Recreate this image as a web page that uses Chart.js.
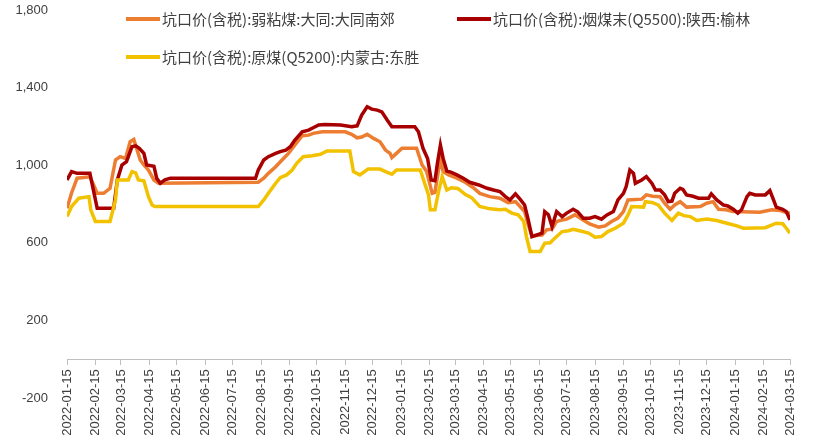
<!DOCTYPE html>
<html>
<head>
<meta charset="utf-8">
<script src="https://cdn.jsdelivr.net/npm/chart.js@4/dist/chart.umd.min.js"></script>
<style>
  html, body { margin: 0; padding: 0; background: #ffffff; }
  #wrap { width: 818px; height: 447px; }
</style>
</head>
<body>
<div id="wrap"><canvas id="c" width="818" height="447"></canvas></div>
<script>
// ---- Data ----
const seriesNames = [
  '坑口价(含税):弱粘煤:大同:大同南郊',
  '坑口价(含税):烟煤末(Q5500):陕西:榆林',
  '坑口价(含税):原煤(Q5200):内蒙古:东胜'
];

const tickLabels = [
  '2022-01-15','2022-02-15','2022-03-15','2022-04-15','2022-05-15','2022-06-15','2022-07-15',
  '2022-08-15','2022-09-15','2022-10-15','2022-11-15','2022-12-15','2023-01-15','2023-02-15',
  '2023-03-15','2023-04-15','2023-05-15','2023-06-15','2023-07-15','2023-08-15','2023-09-15',
  '2023-10-15','2023-11-15','2023-12-15','2024-01-15','2024-02-15','2024-03-15'
];

const yTicks = [-200, 200, 600, 1000, 1400, 1800];

// 大同南郊 弱粘煤
const datongDates = [
  '2022-01-15','2022-01-20','2022-01-26','2022-02-09','2022-02-13','2022-02-17','2022-02-24','2022-03-03',
  '2022-03-09','2022-03-14','2022-03-20','2022-03-25','2022-03-29','2022-04-01','2022-04-05','2022-04-09',
  '2022-04-14','2022-04-20','2022-04-25','2022-08-12','2022-08-18','2022-08-23','2022-08-31','2022-09-07',
  '2022-09-14','2022-09-21','2022-09-29','2022-10-06','2022-10-11','2022-10-21','2022-11-15','2022-11-22',
  '2022-11-28','2022-12-03','2022-12-09','2022-12-16','2022-12-23','2022-12-29','2023-01-03','2023-01-05',
  '2023-01-10','2023-01-16','2023-02-01','2023-02-07','2023-02-12','2023-02-18','2023-02-21','2023-02-27',
  '2023-03-02','2023-03-08','2023-03-17','2023-03-26','2023-04-04','2023-04-11','2023-04-22','2023-05-03',
  '2023-05-12','2023-05-20','2023-05-25','2023-05-30','2023-06-03','2023-06-07','2023-06-18','2023-06-23',
  '2023-06-29','2023-07-04','2023-07-10','2023-07-15','2023-07-24','2023-08-02','2023-08-09','2023-08-19',
  '2023-08-26','2023-09-02','2023-09-09','2023-09-15','2023-09-20','2023-10-05','2023-10-10','2023-10-17',
  '2023-10-25','2023-10-30','2023-11-05','2023-11-10','2023-11-16','2023-11-23','2023-12-08','2023-12-15',
  '2023-12-22','2023-12-28','2024-01-05','2024-01-13','2024-02-11','2024-02-24','2024-03-04','2024-03-11',
  '2024-03-15'
];
const datongValues = [
  778, 857, 933, 940, 900, 855, 855, 881,
  1027, 1044, 1035, 1121, 1133, 1087, 1027, 1001,
  975, 924, 907, 912, 933, 958, 992, 1027,
  1061, 1104, 1152, 1155, 1164, 1172, 1172, 1159,
  1141, 1145, 1159, 1138, 1121, 1078, 1061, 1039,
  1061, 1087, 1087, 1001, 967, 855, 860, 1035,
  967, 950, 933, 912, 884, 855, 838, 830,
  807, 812, 787, 761, 693, 636, 640, 667,
  670, 710, 718, 722, 744, 718, 698, 681,
  687, 710, 727, 761, 821, 825, 847, 840,
  838, 804, 773, 795, 812, 784, 787, 804,
  812, 773, 770, 761, 758, 770, 767, 756,
  752
];

// 榆林 烟煤末(Q5500)
const yulinDates = [
  '2022-01-15','2022-01-20','2022-01-26','2022-02-09','2022-02-17','2022-03-07','2022-03-11','2022-03-16',
  '2022-03-21','2022-03-27','2022-03-31','2022-04-04','2022-04-09','2022-04-12','2022-04-20','2022-04-23',
  '2022-04-27','2022-05-02','2022-05-08','2022-08-09','2022-08-12','2022-08-18','2022-08-23','2022-08-31',
  '2022-09-05','2022-09-11','2022-09-16','2022-09-21','2022-09-29','2022-10-06','2022-10-11','2022-10-17',
  '2022-10-24','2022-11-10','2022-11-22','2022-11-28','2022-12-03','2022-12-09','2022-12-14','2022-12-20',
  '2022-12-25','2022-12-31','2023-01-05','2023-01-30','2023-02-03','2023-02-08','2023-02-13','2023-02-17',
  '2023-02-21','2023-02-24','2023-02-27','2023-03-02','2023-03-06','2023-03-11','2023-03-17','2023-03-24',
  '2023-03-31','2023-04-10','2023-04-19','2023-04-26','2023-05-03','2023-05-09','2023-05-14','2023-05-20',
  '2023-05-25','2023-05-30','2023-06-03','2023-06-07','2023-06-18','2023-06-21','2023-06-25','2023-06-29',
  '2023-07-04','2023-07-10','2023-07-15','2023-07-22','2023-07-27','2023-08-02','2023-08-09','2023-08-15',
  '2023-08-22','2023-08-28','2023-09-04','2023-09-09','2023-09-15','2023-09-18','2023-09-22','2023-09-26',
  '2023-09-28','2023-10-05','2023-10-10','2023-10-16','2023-10-20','2023-10-25','2023-10-30','2023-11-03',
  '2023-11-07','2023-11-10','2023-11-16','2023-11-19','2023-11-23','2023-11-30','2023-12-06','2023-12-17',
  '2023-12-20','2023-12-26','2024-01-02','2024-01-07','2024-01-13','2024-01-18','2024-01-22','2024-01-28',
  '2024-01-31','2024-02-06','2024-02-17','2024-02-22','2024-02-26','2024-02-29','2024-03-07','2024-03-11',
  '2024-03-15'
];
const yulinValues = [
  924, 967, 958, 958, 778, 778, 924, 1001,
  1018, 1095, 1100, 1087, 1061, 1001, 995, 933,
  907, 924, 933, 933, 975, 1027, 1044, 1061,
  1070, 1078, 1095, 1130, 1172, 1181, 1193, 1207,
  1210, 1207, 1198, 1203, 1258, 1301, 1289, 1284,
  1275, 1232, 1198, 1198, 1172, 1087, 1035, 924,
  920, 1018, 1104, 1035, 970, 963, 950, 933,
  912, 898, 881, 872, 864, 838, 821, 852,
  825, 795, 718, 632, 650, 761, 745, 684,
  761, 735, 753, 773, 760, 727, 727, 735,
  722, 744, 761, 821, 855, 890, 975, 958,
  907, 924, 941, 907, 872, 872, 847, 812,
  815, 855, 881, 875, 847, 840, 830, 830,
  852, 821, 795, 790, 773, 753, 770, 838,
  855, 847, 847, 869, 821, 784, 773, 761,
  718
];

// 东胜 原煤(Q5200)
const dongshengDates = [
  '2022-01-15','2022-01-20','2022-01-28','2022-02-08','2022-02-10','2022-02-15','2022-03-03','2022-03-09',
  '2022-03-11','2022-03-23','2022-03-27','2022-03-31','2022-04-03','2022-04-09','2022-04-14','2022-04-18',
  '2022-04-21','2022-08-12','2022-08-18','2022-08-23','2022-08-31','2022-09-05','2022-09-12','2022-09-18',
  '2022-09-23','2022-09-30','2022-10-10','2022-10-19','2022-10-26','2022-11-20','2022-11-24','2022-12-01',
  '2022-12-10','2022-12-23','2022-12-31','2023-01-05','2023-01-10','2023-02-05','2023-02-08','2023-02-14',
  '2023-02-16','2023-02-21','2023-02-25','2023-03-01','2023-03-06','2023-03-11','2023-03-18','2023-03-26',
  '2023-04-02','2023-04-11','2023-04-22','2023-05-03','2023-05-09','2023-05-16','2023-05-23','2023-05-29',
  '2023-06-01','2023-06-05','2023-06-16','2023-06-21','2023-06-27','2023-07-02','2023-07-10','2023-07-17',
  '2023-07-22','2023-07-29','2023-08-08','2023-08-15','2023-08-22','2023-08-29','2023-09-06','2023-09-15',
  '2023-09-20','2023-09-24','2023-10-07','2023-10-09','2023-10-16','2023-10-23','2023-10-30','2023-11-07',
  '2023-11-14','2023-11-20','2023-11-27','2023-12-04','2023-12-15','2023-12-26','2024-01-06','2024-01-17',
  '2024-01-24','2024-02-17','2024-02-29','2024-03-07','2024-03-11','2024-03-15'
];
const dongshengValues = [
  735, 787, 830, 838, 770, 710, 710, 821,
  924, 924, 967, 960, 924, 920, 838, 795,
  787, 787, 821, 855, 907, 936, 950, 975,
  1010, 1044, 1049, 1056, 1073, 1073, 967, 950,
  980, 980, 963, 953, 975, 975, 933, 847,
  770, 770, 864, 941, 872, 884, 880, 850,
  833, 787, 775, 770, 773, 753, 744, 710,
  632, 555, 555, 598, 600, 624, 658, 662,
  670, 662, 650, 629, 632, 658, 675, 701,
  744, 787, 784, 812, 808, 795, 753, 715,
  753, 740, 735, 715, 722, 715, 701, 687,
  675, 678, 701, 698, 675, 650
];

// ---- helpers ----
const START = Date.UTC(2022, 0, 15);
const dayOf = s => (Date.UTC(+s.slice(0, 4), +s.slice(5, 7) - 1, +s.slice(8, 10)) - START) / 864e5;
const toPoints = (dates, vals) => dates.map((d, i) => ({ x: dayOf(d), y: vals[i] }));
const tickDays = tickLabels.map(dayOf);
const labelByDay = {};
tickLabels.forEach(s => { labelByDay[dayOf(s)] = s; });

const colors = ['#ED7D31', '#A80000', '#F2C200'];
const TEXT = '#404040';
const TICK_FONT = { family: '"Liberation Sans", Arial, sans-serif', size: 13 };

const legendPlugin = {
  id: 'manualLegend',
  afterDraw(chart) {
    const ctx = chart.ctx;
    const slots = [
      { i: 0, x: 126, y: 19 },
      { i: 1, x: 457, y: 19 },
      { i: 2, x: 126, y: 57 }
    ];
    ctx.save();
    ctx.font = '15px "Noto Sans CJK SC", sans-serif';
    ctx.textBaseline = 'middle';
    ctx.textAlign = 'left';
    slots.forEach(s => {
      const ds = chart.data.datasets[s.i];
      ctx.strokeStyle = ds.borderColor;
      ctx.lineWidth = 4;
      ctx.beginPath();
      ctx.moveTo(s.x, s.y);
      ctx.lineTo(s.x + 34, s.y);
      ctx.stroke();
      ctx.fillStyle = TEXT;
      ctx.fillText(ds.label, s.x + 36, s.y);
    });
    ctx.restore();
  }
};

const noPad = s => { s.paddingTop = 0; s.paddingBottom = 0; };

new Chart(document.getElementById('c'), {
  type: 'line',
  data: {
    datasets: [
      { label: seriesNames[0], data: toPoints(datongDates, datongValues), borderColor: colors[0], order: 2 },
      { label: seriesNames[1], data: toPoints(yulinDates, yulinValues), borderColor: colors[1], order: 1 },
      { label: seriesNames[2], data: toPoints(dongshengDates, dongshengValues), borderColor: colors[2], order: 0 }
    ].map(d => Object.assign(d, { borderWidth: 3.5, pointRadius: 0, tension: 0, fill: false, backgroundColor: d.borderColor }))
  },
  options: {
    responsive: false,
    animation: false,
    devicePixelRatio: 1,
    layout: { padding: { left: 0, right: 28, top: 10, bottom: 49 } },
    plugins: { legend: { display: false }, tooltip: { enabled: false } },
    scales: {
      x: {
        type: 'linear',
        position: { y: 0 },
        min: 0,
        max: dayOf('2024-03-15'),
        afterBuildTicks: s => { s.ticks = tickDays.map(v => ({ value: v })); },
        afterFit: s => { s.height = 0; noPad(s); },
        grid: { drawOnChartArea: false, drawTicks: true, tickLength: 5, color: '#BFBFBF' },
        border: { display: true, color: '#BFBFBF', width: 1 },
        ticks: {
          autoSkip: false, minRotation: 90, maxRotation: 90, padding: 5,
          color: TEXT, font: TICK_FONT,
          callback: v => labelByDay[v] || ''
        }
      },
      y: {
        min: -200,
        max: 1800,
        afterBuildTicks: s => { s.ticks = yTicks.map(v => ({ value: v })); },
        afterFit: s => { s.width = 67; noPad(s); },
        grid: { display: false, drawTicks: false },
        border: { display: false },
        ticks: {
          padding: 19, color: TEXT, font: TICK_FONT,
          callback: v => v.toLocaleString('en-US')
        }
      }
    }
  },
  plugins: [legendPlugin]
});
</script>
</body>
</html>
